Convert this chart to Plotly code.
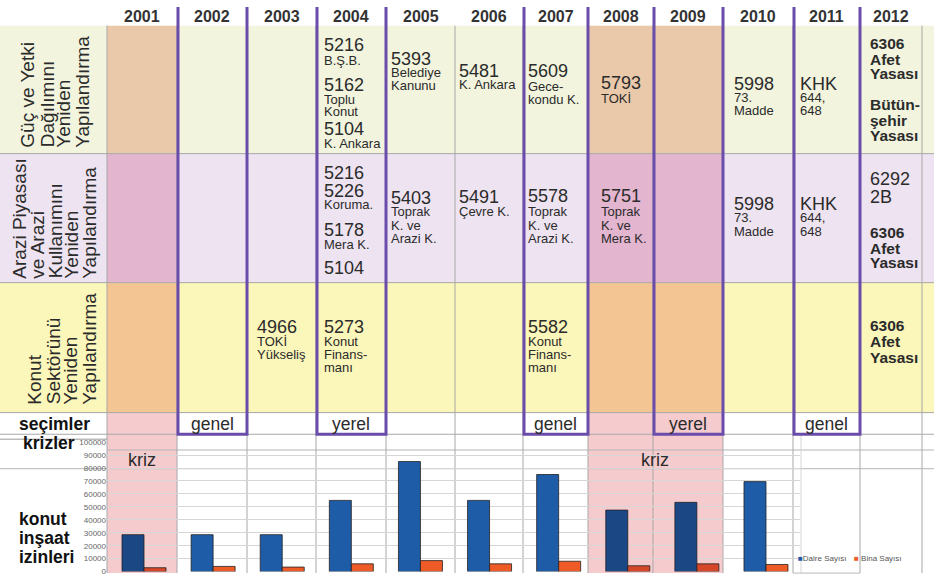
import plotly.graph_objects as go

# ---- data ----
years = [2001, 2002, 2003, 2004, 2005, 2006, 2007, 2008, 2009, 2010, 2011, 2012]
crisis_years = [2001, 2008, 2009]
election_years = [2002, 2004, 2007, 2009, 2011]
election_types = ["genel", "yerel", "genel", "yerel", "genel"]

row_titles = [
    ["Güç ve Yetki", "Dağılımını", "Yeniden", "Yapılandırma"],
    ["Arazi Piyasası", "ve Arazi", "Kullanımını", "Yeniden", "Yapılandırma"],
    ["Konut", "Sektörünü", "Yeniden", "Yapılandırma"],
]

laws_guc = {
    2004: ["5216", "B.Ş.B.", "5162", "Toplu", "Konut", "5104", "K. Ankara"],
    2005: ["5393", "Belediye", "Kanunu"],
    2006: ["5481", "K. Ankara"],
    2007: ["5609", "Gece-", "kondu K."],
    2008: ["5793", "TOKİ"],
    2010: ["5998", "73.", "Madde"],
    2011: ["KHK", "644,", "648"],
    2012: ["6306", "Afet", "Yasası", "Bütün-", "şehir", "Yasası"],
}
laws_arazi = {
    2004: ["5216", "5226", "Koruma.", "5178", "Mera K.", "5104"],
    2005: ["5403", "Toprak", "K. ve", "Arazi K."],
    2006: ["5491", "Çevre K."],
    2007: ["5578", "Toprak", "K. ve", "Arazi K."],
    2008: ["5751", "Toprak", "K. ve", "Mera K."],
    2010: ["5998", "73.", "Madde"],
    2011: ["KHK", "644,", "648"],
    2012: ["6292", "2B", "6306", "Afet", "Yasası"],
}
laws_konut = {
    2003: ["4966", "TOKİ", "Yükseliş"],
    2004: ["5273", "Konut", "Finans-", "manı"],
    2007: ["5582", "Konut", "Finans-", "manı"],
    2012: ["6306", "Afet", "Yasası"],
}

chart_years = [2001, 2002, 2003, 2004, 2005, 2006, 2007, 2008, 2009, 2010]
daire_sayisi = [28500, 28500, 28500, 55000, 85000, 55000, 75000, 47500, 53500, 69500]
bina_sayisi = [3000, 4000, 3500, 6000, 8500, 6000, 8000, 4500, 6000, 5500]

# ---- layout (pixels) ----
W, H = 934, 583
col_edges = [107, 177, 247, 316, 386, 455, 523, 588, 653, 723, 793, 860, 922]
row_edges = [22, 152, 283, 415]
sec_bottom = 437
chart_bottom = 578
label_x = [[28, 47, 64, 83], [20, 38, 55, 72, 90], [35, 53, 71, 90]]
label_bottom = [148, 281, 409]

law_y = [
    {2004: [42, 57, 82, 96.5, 109.5, 127, 142], 2005: [56, 70, 83], 2006: [68, 82],
     2007: [68, 83.5, 97], 2008: [80, 96], 2010: [81, 95, 108.5], 2011: [81, 95, 108.5],
     2012: [40, 56, 71, 102, 118, 134]},
    {2004: [172, 190, 204, 230, 244, 268], 2005: [197, 211, 224.5, 238], 2006: [196, 211],
     2007: [195, 211, 224.5, 238], 2008: [195, 211, 224.5, 238], 2010: [203, 217, 231],
     2011: [203, 217, 231], 2012: [178, 196, 232, 248, 263]},
    {2003: [328, 343, 356], 2004: [328, 343, 356, 369], 2007: [328, 343, 356, 369],
     2012: [327, 343, 359]},
]
col_pad = {2003: 8, 2004: 6, 2005: 3, 2006: 2, 2007: 3, 2008: 11, 2010: 9, 2011: 5, 2012: 8}

row_bg = ["#F2F4DD", "#EEE3F0", "#FBF6B9"]
row_bg_crisis = ["#E9C9AA", "#E3B5CF", "#F3C592"]
crisis_pink = "#F5CBCE"
purple = "#6A4DAB"
grid_grey = "#A8A8A8"
txt = "#2B2B2B"
FONT = "Liberation Sans, Arial, sans-serif"

blue, blue_dark = "#1F5CA7", "#1B4785"
orange, orange_dark = "#EE5B26", "#D6472A"

shapes = []
annotations = []


def rect(x0, y0, x1, y1, color, layer="below"):
    shapes.append(dict(type="rect", xref="x", yref="y", x0=x0, y0=y0, x1=x1, y1=y1,
                       fillcolor=color, line=dict(width=0), layer=layer))


def line(x0, y0, x1, y1, color=grid_grey, width=1, layer="below"):
    shapes.append(dict(type="line", xref="x", yref="y", x0=x0, y0=y0, x1=x1, y1=y1,
                       line=dict(color=color, width=width), layer=layer))


def col_span(year):
    i = years.index(year)
    return col_edges[i], col_edges[i + 1]


# row backgrounds
for r in range(3):
    rect(0, row_edges[r], W, row_edges[r + 1], row_bg[r])
    for y in crisis_years:
        x0, x1 = col_span(y)
        rect(x0, row_edges[r], x1, row_edges[r + 1], row_bg_crisis[r])

# crisis bands in the lower part
for y in crisis_years:
    x0, x1 = col_span(y)
    rect(x0, row_edges[3], x1, chart_bottom, crisis_pink)

# table grid lines
for yy in row_edges[1:]:
    line(0, yy, W, yy)
line(0, sec_bottom, W, sec_bottom)
line(107, 453, W, 453, "#B5B5B5")
line(0, 472, W, 472, "#B5B5B5")
line(0, 442, 107, 442, "#9A9A9A")
for x in col_edges:
    line(x, row_edges[0], x, chart_bottom)
line(801, sec_bottom, 801, chart_bottom, "#D5D5D5")
line(793, chart_bottom, 860, chart_bottom, "#BBBBBB")

# election boxes
for y in election_years:
    x0, x1 = col_span(y)
    x0 += 1
    shapes.append(dict(type="path", xref="x", yref="y",
                       path=f"M {x0},3 L {x0},{sec_bottom} L {x1},{sec_bottom} L {x1},3",
                       line=dict(color=purple, width=3), layer="above"))

# year headers
for y in years:
    x0, x1 = col_span(y)
    annotations.append(dict(x=(x0 + x1) / 2, y=13, text=f"<b>{y}</b>", showarrow=False,
                            font=dict(size=16, color="#333333", family=FONT)))

# row titles (rotated)
for r, lines in enumerate(row_titles):
    for k, t in enumerate(lines):
        annotations.append(dict(x=label_x[r][k], y=label_bottom[r], text=t, textangle=-90,
                                showarrow=False, xanchor="center", yanchor="bottom",
                                font=dict(size=19, color=txt, family=FONT)))

# law texts: law numbers large, notes small, 2012 laws bold
for r, laws in enumerate([laws_guc, laws_arazi, laws_konut]):
    for year, lines in laws.items():
        x0, _ = col_span(year)
        for t, yy in zip(lines, law_y[r][year]):
            is_number = (len(t) == 4 and t.isdigit()) or t in ("KHK", "2B")
            if year == 2012 and t not in ("6292", "2B"):
                size, text = 15.5, f"<b>{t}</b>"
            elif is_number:
                size, text = 18, t
            else:
                size, text = 13, t
            annotations.append(dict(x=x0 + col_pad[year], y=yy, text=text, showarrow=False,
                                    xanchor="left", yanchor="middle",
                                    font=dict(size=size, color=txt, family=FONT)))

# elections row
for y, t in zip(election_years, election_types):
    x0, x1 = col_span(y)
    annotations.append(dict(x=(x0 + x1) / 2, y=427, text=t, showarrow=False,
                            font=dict(size=17.5, color=txt, family=FONT)))

# crisis labels
annotations.append(dict(x=142, y=463, text="kriz", showarrow=False,
                        font=dict(size=18, color=txt, family=FONT)))
annotations.append(dict(x=col_edges[8] + 2, y=463, text="kriz", showarrow=False,
                        font=dict(size=18, color=txt, family=FONT)))

# left side labels
for t, x, y in [("seçimler", 17, 427), ("krizler", 21, 446), ("konut", 17, 523),
                ("inşaat", 17, 542), ("izinleri", 17, 562)]:
    annotations.append(dict(x=x, y=y, text=f"<b>{t}</b>", showarrow=False, xanchor="left",
                            font=dict(size=17.5, color="#111111", family=FONT)))

# legend
annotations.append(dict(x=796, y=563, text=f"<span style='color:{blue}'>■</span>Daire Sayısı",
                        showarrow=False, xanchor="left",
                        font=dict(size=8, color="#555555", family=FONT)))
annotations.append(dict(x=852, y=563, text=f"<span style='color:{orange}'>■</span> Bina Sayısı",
                        showarrow=False, xanchor="left",
                        font=dict(size=8, color="#555555", family=FONT)))
for a in annotations:
    a.setdefault("xref", "x")
    a.setdefault("yref", "y")

# ---- bars ----
is_crisis = [y in crisis_years for y in chart_years]
bw = 22 / 69.11
fig = go.Figure()
fig.add_trace(go.Bar(x=chart_years, y=daire_sayisi, name="Daire Sayısı", xaxis="x2", yaxis="y2",
                     width=bw, offset=-bw,
                     marker=dict(color=[blue_dark if c else blue for c in is_crisis],
                                 line=dict(color="#222222", width=0.8))))
fig.add_trace(go.Bar(x=chart_years, y=bina_sayisi, name="Bina Sayısı", xaxis="x2", yaxis="y2",
                     width=bw, offset=0,
                     marker=dict(color=[orange_dark if c else orange for c in is_crisis],
                                 line=dict(color="#222222", width=0.8))))

px_per_year = 69.11
first_center = 144
fig.update_layout(
    width=W, height=H, margin=dict(l=0, r=0, t=0, b=0),
    paper_bgcolor="white", plot_bgcolor="rgba(0,0,0,0)",
    showlegend=False, shapes=shapes, annotations=annotations,
    xaxis=dict(range=[0, W], domain=[0, 1], visible=False, fixedrange=True),
    yaxis=dict(range=[H, 0], domain=[0, 1], visible=False, fixedrange=True),
    xaxis2=dict(domain=[107 / W, 800 / W], anchor="y2", visible=False,
                range=[2001 - (first_center - 107) / px_per_year,
                       2001 + (800 - first_center) / px_per_year]),
    yaxis2=dict(domain=[(H - 576.5) / H, (H - 445) / H], anchor="x2", range=[0, 100000],
                dtick=10000, tickformat="d", showgrid=True, gridcolor="#D6D6D6",
                zeroline=False, showline=False, ticks="",
                tickfont=dict(size=8, color="#666666", family=FONT)),
    font=dict(family=FONT),
)

fig.write_html("out.html", config={"displayModeBar": False},
               post_script="document.body.style.margin='0';")
